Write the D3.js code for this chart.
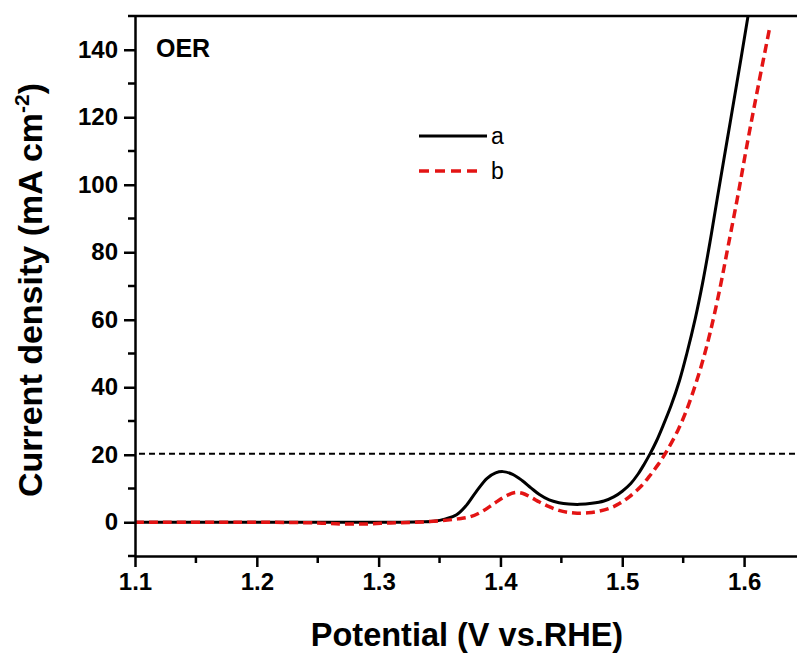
<!DOCTYPE html>
<html><head><meta charset="utf-8">
<script src="https://cdn.jsdelivr.net/npm/d3@7"></script>
<style>
html,body{margin:0;padding:0;background:#fff;overflow:hidden}
svg{display:block;font-family:"Liberation Sans",Arial,sans-serif}
</style></head>
<body>
<svg id="chart" width="797" height="655"></svg>
<script>
// ---- data ----
const potentialA = [1.10,1.15,1.20,1.25,1.30,1.33,1.345,1.355,1.364,1.372,1.380,1.389,1.396,1.402,1.410,1.418,1.425,1.432,1.440,1.448,1.456,1.465,1.475,1.485,1.493,1.500,1.507,1.513,1.518,1.523,1.528,1.533,1.540,1.547,1.553,1.560,1.566,1.572,1.578,1.586,1.594,1.603,1.606];
const currentA   = [0,0,0,0,0,0.1,0.3,1.0,2.2,5,9,13,14.6,15,14.2,12.3,10.2,8.2,6.6,5.8,5.4,5.3,5.6,6.3,7.5,9.2,11.5,14.3,17.2,20.4,24,28.2,34.5,42,50,60.5,71,83,96,113,130,149.5,157];
const potentialB = [1.10,1.20,1.25,1.27,1.29,1.31,1.33,1.35,1.365,1.375,1.385,1.395,1.403,1.412,1.418,1.425,1.432,1.440,1.448,1.456,1.463,1.472,1.480,1.490,1.498,1.506,1.515,1.522,1.528,1.533,1.538,1.546,1.552,1.558,1.565,1.572,1.580,1.587,1.595,1.603,1.612,1.621];
const currentB   = [0,0,-0.2,-0.5,-0.5,-0.2,0,0.4,1.0,1.6,3.2,5.6,7.5,8.8,8.6,7.4,6.0,4.6,3.5,2.9,2.7,2.8,3.2,4.2,5.6,7.6,10.5,13.5,16.4,19,22,27.5,32.5,38.5,46.5,56,69,82,97,113,130,146.5];
const seriesNames = ["a","b"];
const xTicks = [1.1,1.2,1.3,1.4,1.5,1.6];
const xMinor = [1.15,1.25,1.35,1.45,1.55,1.65];
const yTicks = [0,20,40,60,80,100,120,140];
const yMinor = [-10,10,30,50,70,90,110,130,150];
const refLevel = 20.3;

// ---- layout ----
const svg = d3.select("#chart");
const L = 135, R = 805, T = 16, B = 556;
const x = d3.scaleLinear().domain([1.1,1.65]).range([L,R]);
const y = d3.scaleLinear().domain([-10,150]).range([B,T]);

svg.append("defs").append("clipPath").attr("id","clip")
  .append("rect").attr("x",L).attr("y",T).attr("width",R-L).attr("height",B-T);

const plot = svg.append("g").attr("clip-path","url(#clip)");

// reference dashed line
plot.append("line")
  .attr("x1",x(1.1)+4).attr("x2",x(1.65)).attr("y1",y(refLevel)).attr("y2",y(refLevel))
  .attr("stroke","#000").attr("stroke-width",2).attr("stroke-dasharray","6,4");

const line = d3.line().x(d=>x(d[0])).y(d=>y(d[1])).curve(d3.curveCatmullRom.alpha(0.5));
const dataA = potentialA.map((p,i)=>[p,currentA[i]]);
const dataB = potentialB.map((p,i)=>[p,currentB[i]]);

plot.append("path").datum(dataA).attr("d",line)
  .attr("fill","none").attr("stroke","#000").attr("stroke-width",3);
plot.append("path").datum(dataB).attr("d",line)
  .attr("fill","none").attr("stroke","#e31414").attr("stroke-width",3.5).attr("stroke-dasharray","9,5");

// axes
const tickFont = "bold 24px 'Liberation Sans', Arial, sans-serif";
const xAxis = d3.axisBottom(x).tickValues(xTicks).tickFormat(d3.format(".1f")).tickSize(11).tickSizeOuter(0).tickPadding(6);
const gx = svg.append("g").attr("transform",`translate(0,${B})`).call(xAxis);
gx.selectAll(".tick text").style("font",tickFont).attr("fill","#000");
gx.append("g").selectAll("line").data(xMinor).join("line")
  .attr("x1",d=>x(d)).attr("x2",d=>x(d)).attr("y1",0).attr("y2",7).attr("stroke","#000").attr("stroke-width",2.5);

const yAxis = d3.axisLeft(y).tickValues(yTicks).tickFormat(d3.format("d")).tickSize(11).tickSizeOuter(0).tickPadding(6);
const gy = svg.append("g").attr("transform",`translate(${L},0)`).call(yAxis);
gy.selectAll(".tick text").style("font",tickFont).attr("fill","#000");
gy.append("g").selectAll("line").data(yMinor).join("line")
  .attr("y1",d=>y(d)).attr("y2",d=>y(d)).attr("x1",0).attr("x2",-7).attr("stroke","#000").attr("stroke-width",2.5);

svg.selectAll(".domain").attr("stroke","#000").attr("stroke-width",2.5);
svg.selectAll(".tick line").attr("stroke","#000").attr("stroke-width",2.5);

// top frame line
svg.append("line").attr("x1",L).attr("x2",R).attr("y1",T).attr("y2",T)
  .attr("stroke","#000").attr("stroke-width",2.5);

// axis titles
svg.append("text").attr("x",467).attr("y",646).attr("text-anchor","middle")
  .style("font","bold 32.5px 'Liberation Sans', Arial, sans-serif").text("Potential (V vs.RHE)");

const yt = svg.append("text").attr("transform","translate(42,290) rotate(-90)").attr("text-anchor","middle")
  .style("font","bold 34px 'Liberation Sans', Arial, sans-serif");
yt.append("tspan").text("Current density (mA cm");
yt.append("tspan").attr("dy",-13).style("font-size","21px").text("-2");
yt.append("tspan").attr("dy",13).text(")");

// OER label
svg.append("text").attr("x",156).attr("y",57)
  .style("font","bold 25px 'Liberation Sans', Arial, sans-serif").text("OER");

// legend
const legend = svg.append("g");
const legY = [136,171];
const legStyles = [{c:"#000",w:3,dash:null},{c:"#e31414",w:3.5,dash:"10,6"}];
seriesNames.forEach((n,i)=>{
  legend.append("line").attr("x1",419).attr("x2",i===0?487:479).attr("y1",legY[i]).attr("y2",legY[i])
    .attr("stroke",legStyles[i].c).attr("stroke-width",legStyles[i].w).attr("stroke-dasharray",legStyles[i].dash);
  legend.append("text").attr("x",491).attr("y",legY[i]+8)
    .style("font","23px 'Liberation Sans', Arial, sans-serif").text(n);
});
</script>
</body></html>
